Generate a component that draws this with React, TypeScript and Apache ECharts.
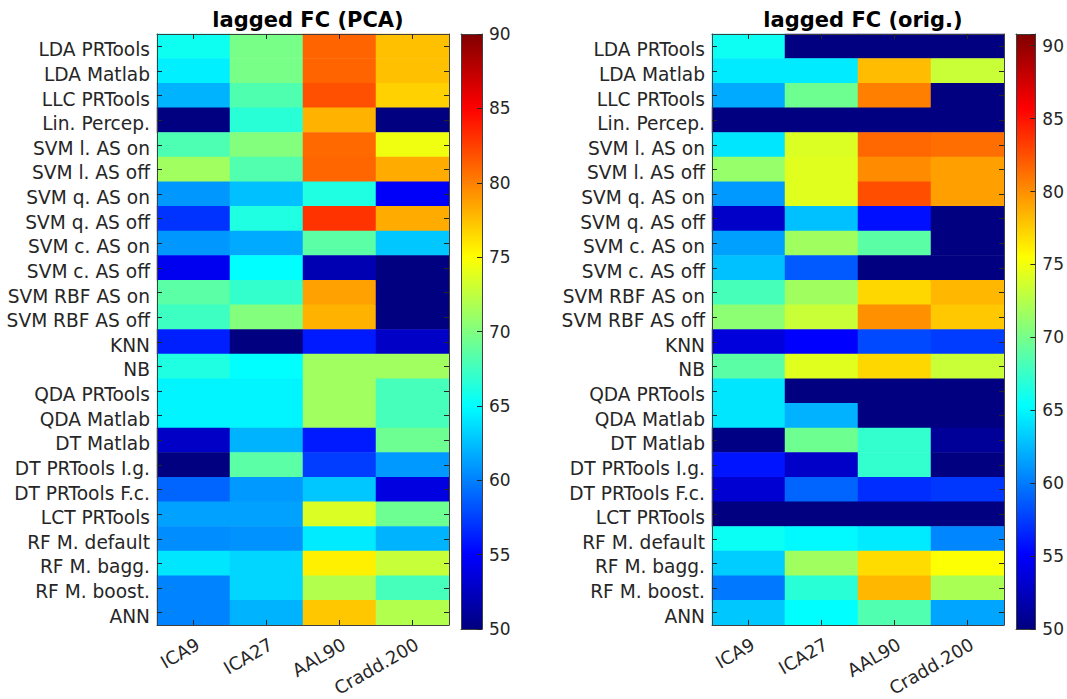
import React, { useEffect, useRef } from 'react';
import * as echarts from 'echarts';

const rows = ['LDA PRTools', 'LDA Matlab', 'LLC PRTools', 'Lin. Percep.', 'SVM l. AS on', 'SVM l. AS off', 'SVM q. AS on', 'SVM q. AS off', 'SVM c. AS on', 'SVM c. AS off', 'SVM RBF AS on', 'SVM RBF AS off', 'KNN', 'NB', 'QDA PRTools', 'QDA Matlab', 'DT Matlab', 'DT PRTools I.g.', 'DT PRTools F.c.', 'LCT PRTools', 'RF M. default', 'RF M. bagg.', 'RF M. boost.', 'ANN'];
const atlases = ['ICA9', 'ICA27', 'AAL90', 'Cradd.200'];

// lagged FC (PCA)
const pcaICA9 = [65.5, 64.4, 62, 50, 68, 71.3, 60.9, 57, 60.9, 54.4, 68.5, 67.4, 56.2, 66.2, 64.6, 64.6, 52.8, 50, 58.9, 61.3, 60.5, 64, 60.1, 60.1];
const pcaICA27 = [69.7, 69.7, 68.1, 66.6, 70.1, 68.2, 62.5, 66.2, 61.7, 65, 67, 70.1, 50, 65, 64.6, 64.6, 62, 68.5, 61, 61.3, 60.7, 63.4, 63.4, 62];
const pcaAAL90 = [81.1, 81.1, 81.9, 78, 80.9, 81, 66.2, 83, 68.5, 52, 78.7, 78, 56, 71.3, 71.3, 71.3, 56, 57.4, 62.8, 73.6, 64.2, 75.6, 72, 77.2];
const pcaCradd200 = [77.5, 77.5, 76.8, 50, 74.4, 78.3, 54.8, 78.3, 62.8, 50, 50, 50, 52.8, 71.3, 67.7, 67.7, 69.3, 61, 53.8, 69.3, 62, 72.8, 67.7, 72];

// lagged FC (orig.)
const origICA9 = [65.8, 64.5, 61.9, 50, 64.3, 71.3, 61.2, 52.9, 61.5, 62.8, 68.1, 70.9, 53.7, 68.9, 64.3, 64.3, 50.2, 55.9, 53.3, 50, 65.7, 63.3, 59.9, 63.1];
const origICA27 = [50, 64.5, 69.7, 50, 74.1, 74.3, 74.3, 62.8, 71.7, 58.7, 71.7, 73.3, 55.1, 74.3, 50, 62.2, 69.7, 52.9, 59.1, 50, 65.1, 71.7, 66.9, 65.3];
const origAAL90 = [50, 78.2, 80.6, 50, 81.6, 80.1, 82.6, 55.7, 68.9, 50, 77.1, 79.9, 58, 77.1, 50, 50, 67.3, 67.3, 56.9, 50, 64.5, 76.9, 78.4, 68.5];
const origCradd200 = [50, 73.3, 50, 50, 81.3, 79.3, 79.3, 50, 50, 50, 78.4, 77.7, 57.5, 73.3, 50, 50, 51, 50, 57.3, 50, 60.5, 75.4, 72.1, 61.7];

const titles = ['lagged FC (PCA)', 'lagged FC (orig.)'];
const cbTicks = [50, 55, 60, 65, 70, 75, 80, 85, 90];
const cbMin = 50;
const cbMaxPCA = 90;
const cbMaxOrig = 90.8;

const JET = ['#000080', '#0000ff', '#0080ff', '#00ffff', '#80ff80', '#ffff00', '#ff8000', '#ff0000', '#800000'];
const TXT = '#262626';
const FONT = 'DejaVu Sans';

function toCells(cols: number[][]) {
  const out: number[][] = [];
  cols.forEach((col, j) => col.forEach((v, i) => out.push([j, i, v])));
  return out;
}

export default function App() {
  const ref = useRef<HTMLDivElement>(null);
  useEffect(() => {
    if (!ref.current) return;
    const chart = echarts.init(ref.current, undefined, { renderer: 'svg' });
    const line = { show: true, lineStyle: { color: '#404040', width: 1 } };
    const tick = { show: true, inside: true, length: 5, alignWithLabel: true, interval: 0, lineStyle: { color: TXT } };
    const catX = (gridIndex: number, pos: 'bottom' | 'top', labels: boolean) => ({
      type: 'category', gridIndex, position: pos, data: atlases, z: 10,
      axisLine: line, axisTick: tick,
      axisLabel: labels ? { show: true, interval: 0, rotate: 30, verticalAlign: 'top', fontSize: 18, color: TXT, fontFamily: FONT, margin: 10 } : { show: false },
      splitLine: { show: false },
    });
    const catY = (gridIndex: number, pos: 'left' | 'right', labels: boolean) => ({
      type: 'category', gridIndex, position: pos, data: rows, inverse: true, z: 10,
      axisLine: line, axisTick: tick,
      axisLabel: labels ? {
        show: true, interval: 0, margin: 7,
        formatter: (v: string) => `{t|${v}}`,
        rich: { t: { fontSize: 18.6, color: TXT, fontFamily: FONT, padding: [7, 0, 0, 0] } },
      } : { show: false },
      splitLine: { show: false },
    });
    const cbX = (gridIndex: number, pos: 'bottom' | 'top') => ({
      type: 'category', gridIndex, position: pos, data: [''], z: 10,
      axisLine: line, axisTick: { show: false }, axisLabel: { show: false },
    });
    const cbY = (gridIndex: number, pos: 'left' | 'right', max: number, labels: boolean) => ({
      type: 'value', gridIndex, position: pos, min: cbMin, max, interval: 5, z: 10,
      axisLine: line,
      axisTick: labels ? { show: true, inside: true, length: 5, lineStyle: { color: TXT } } : { show: false },
      axisLabel: labels ? {
        show: true, fontSize: 17, color: TXT, fontFamily: FONT, margin: 7,
        formatter: (v: number) => (cbTicks.includes(v) ? String(v) : ''),
      } : { show: false },
      splitLine: { show: false },
    });
    const grad = () => new echarts.graphic.LinearGradient(0, 1, 0, 0,
      JET.map((c, i) => ({ offset: i / (JET.length - 1), color: c })));

    const option: any = {
      animation: false,
      backgroundColor: '#ffffff',
      title: [
        { text: titles[0], left: 303, top: 4, textAlign: 'center', textStyle: { fontSize: 21, fontWeight: 'bold', color: '#000', fontFamily: FONT } },
        { text: titles[1], left: 858, top: 4, textAlign: 'center', textStyle: { fontSize: 21, fontWeight: 'bold', color: '#000', fontFamily: FONT } },
      ],
      grid: [
        { left: 157, top: 34, width: 292, height: 595 },
        { left: 712, top: 34, width: 292, height: 595 },
        { left: 461, top: 34, width: 21, height: 595 },
        { left: 1016, top: 34, width: 21, height: 595 },
      ],
      xAxis: [
        catX(0, 'bottom', true), catX(0, 'top', false),
        catX(1, 'bottom', true), catX(1, 'top', false),
        cbX(2, 'bottom'), cbX(2, 'top'),
        cbX(3, 'bottom'), cbX(3, 'top'),
      ],
      yAxis: [
        catY(0, 'left', true), catY(0, 'right', false),
        catY(1, 'left', true), catY(1, 'right', false),
        cbY(2, 'left', cbMaxPCA, false), cbY(2, 'right', cbMaxPCA, true),
        cbY(3, 'left', cbMaxOrig, false), cbY(3, 'right', cbMaxOrig, true),
      ],
      visualMap: [
        { type: 'continuous', show: false, seriesIndex: 0, min: cbMin, max: cbMaxPCA, inRange: { color: JET } },
        { type: 'continuous', show: false, seriesIndex: 1, min: cbMin, max: cbMaxOrig, inRange: { color: JET } },
      ],
      series: [
        {
          type: 'heatmap', xAxisIndex: 0, yAxisIndex: 0,
          data: toCells([pcaICA9, pcaICA27, pcaAAL90, pcaCradd200]),
          emphasis: { disabled: true }, itemStyle: { borderWidth: 0 },
        },
        {
          type: 'heatmap', xAxisIndex: 2, yAxisIndex: 2,
          data: toCells([origICA9, origICA27, origAAL90, origCradd200]),
          emphasis: { disabled: true }, itemStyle: { borderWidth: 0 },
        },
        { type: 'bar', xAxisIndex: 4, yAxisIndex: 5, stack: 'cb1', data: [cbMin], barWidth: '100%', itemStyle: { color: 'rgba(0,0,0,0)' }, silent: true },
        { type: 'bar', xAxisIndex: 4, yAxisIndex: 5, stack: 'cb1', data: [cbMaxPCA - cbMin], barWidth: '100%', itemStyle: { color: grad() }, silent: true },
        { type: 'bar', xAxisIndex: 6, yAxisIndex: 7, stack: 'cb2', data: [cbMin], barWidth: '100%', itemStyle: { color: 'rgba(0,0,0,0)' }, silent: true },
        { type: 'bar', xAxisIndex: 6, yAxisIndex: 7, stack: 'cb2', data: [cbMaxOrig - cbMin], barWidth: '100%', itemStyle: { color: grad() }, silent: true },
      ],
    };
    chart.setOption(option);
    return () => chart.dispose();
  }, []);
  return <div ref={ref} style={{ position: 'fixed', left: 0, top: 0, width: 1067, height: 699 }} />;
}
